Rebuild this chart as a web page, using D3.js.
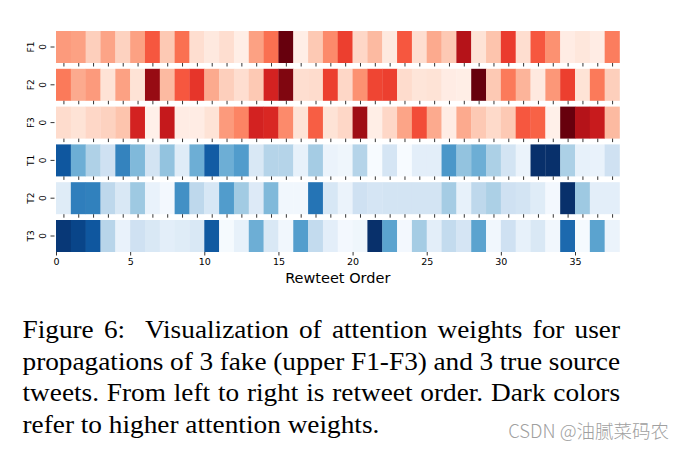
<!DOCTYPE html>
<html>
<head>
<meta charset="utf-8">
<script src="https://cdn.jsdelivr.net/npm/d3@7"></script>
<style>
html,body{margin:0;padding:0;background:#fff;}
svg{display:block;}
</style>
</head>
<body>
<svg id="chart" width="686" height="451"></svg>
<script>
// ---- data ----
const rowLabels = ["F1", "F2", "F3", "T1", "T2", "T3"];
const rowPalettes = ["Reds", "Reds", "Reds", "Blues", "Blues", "Blues"];
const F1 = [0.35,0.33,0.18,0.32,0.17,0.33,0.55,0.20,0.48,0.12,0.07,0.12,0.04,0.33,0.48,1.00,0.04,0.20,0.40,
            0.62,0.15,0.25,0.07,0.55,0.12,0.30,0.20,0.82,0.10,0.22,0.63,0.12,0.55,0.38,0.05,0.08,0.05,0.44];
const F2 = [0.45,0.30,0.35,0.10,0.33,0.10,0.90,0.25,0.55,0.65,0.30,0.18,0.12,0.20,0.72,0.95,0.12,0.13,0.62,
            0.15,0.38,0.60,0.62,0.13,0.09,0.10,0.05,0.04,1.00,0.20,0.45,0.27,0.07,0.36,0.62,0.10,0.45,0.18];
const F3 = [0.13,0.10,0.15,0.17,0.22,0.72,0.03,0.77,0.05,0.05,0.10,0.35,0.42,0.72,0.70,0.40,0.10,0.53,0.10,
            0.15,0.88,0.04,0.15,0.32,0.58,0.30,0.05,0.30,0.20,0.14,0.20,0.55,0.52,0.03,1.00,0.82,0.76,0.25];
const T1 = [0.85,0.50,0.32,0.20,0.68,0.45,0.18,0.40,0.12,0.50,0.83,0.50,0.58,0.15,0.30,0.30,0.08,0.35,0.06,
            0.04,0.30,0.00,0.17,0.00,0.10,0.10,0.60,0.40,0.50,0.33,0.18,0.06,1.00,1.00,0.33,0.08,0.07,0.20];
const T2 = [0.12,0.70,0.69,0.27,0.15,0.37,0.07,0.02,0.63,0.27,0.16,0.58,0.36,0.13,0.45,0.03,0.03,0.74,0.16,
            0.06,0.20,0.17,0.18,0.18,0.18,0.18,0.35,0.08,0.27,0.33,0.20,0.18,0.12,0.02,1.00,0.37,0.10,0.10];
const T3 = [0.97,0.92,0.85,0.29,0.07,0.20,0.15,0.10,0.12,0.15,0.84,0.01,0.08,0.50,0.15,0.03,0.57,0.25,0.10,
            0.02,0.04,1.00,0.55,0.02,0.35,0.10,0.25,0.17,0.55,0.03,0.20,0.08,0.15,0.03,0.78,0.01,0.55,0.06];
const rowsData = [F1, F2, F3, T1, T2, T3];
const xTickValues = [0, 5, 10, 15, 20, 25, 30, 35];
const xLabel = "Rewteet Order";
const captionLines = [
  "Figure 6:  Visualization of attention weights for user",
  "propagations of 3 fake (upper F1-F3) and 3 true source",
  "tweets. From left to right is retweet order. Dark colors",
  "refer to higher attention weights."
];
const watermark = "CSDN @油腻菜码农";

// ---- layout ----
const svg = d3.select("#chart");
const nCols = F1.length;
const x = d3.scaleLinear().domain([0, nCols]).range([56, 619.5]);
const rowTop = d3.scaleLinear().domain([0, rowsData.length - 1]).range([31, 220]);
const rowH = 32;
const interp = {Reds: d3.interpolateReds, Blues: d3.interpolateBlues};
const tickFont = "DejaVu Sans, sans-serif";

rowsData.forEach((vals, r) => {
  const g = svg.append("g");
  const top = rowTop(r);
  const color = d3.scaleSequential(interp[rowPalettes[r]]).domain([0, 1]);
  g.selectAll("rect").data(vals).join("rect")
    .attr("x", (d, i) => x(i))
    .attr("y", top)
    .attr("width", (d, i) => x(i + 1) - x(i) + 0.3)
    .attr("height", rowH)
    .attr("fill", d => color(d));

  const cy = top + rowH / 2;
  g.append("line").attr("x1", 50.5).attr("x2", 54.5).attr("y1", cy).attr("y2", cy)
    .attr("stroke", "#000").attr("stroke-width", 0.8);
  g.append("text").attr("transform", `translate(43,${cy}) rotate(-90)`)
    .attr("text-anchor", "middle").attr("dominant-baseline", "central")
    .style("font-family", tickFont).style("font-size", "9px").text("0");
  g.append("text").attr("transform", `translate(30.5,${cy}) rotate(-90)`)
    .attr("text-anchor", "middle").attr("dominant-baseline", "central")
    .style("font-family", tickFont).style("font-size", "9px").text(rowLabels[r]);

  const isLast = r === rowsData.length - 1;
  const axis = d3.axisBottom(x).tickSizeOuter(0).tickPadding(2.5);
  if (isLast) {
    axis.tickValues(xTickValues).tickSize(3.5).tickFormat(d3.format("d"));
  } else {
    axis.tickValues(d3.range(nCols).map(i => i + 0.5)).tickSize(3.5).tickFormat("");
  }
  const ag = g.append("g").attr("transform", `translate(0,${top + rowH})`).call(axis);
  ag.select(".domain").remove();
  ag.selectAll(".tick line").attr("stroke", "#000").attr("stroke-width", 0.8);
  ag.selectAll(".tick text").style("font-family", tickFont).style("font-size", "9.5px").attr("fill", "#000");
});

svg.append("text").attr("x", (x(0) + x(nCols)) / 2).attr("y", 283)
  .attr("text-anchor", "middle")
  .style("font-family", tickFont).style("font-size", "14.5px").attr("fill", "#000")
  .text(xLabel);

// caption, justified (slightly wide glyphs, like the scanned figure)
const capX0 = 22.5, capX1 = 620;
const sx = 1.05;
const capG = svg.append("g").attr("transform", `translate(${capX0},0) scale(${sx},1)`);
const targetW = (capX1 - capX0) / sx;
const baselines = [338, 369.7, 401.4, 433.1];
captionLines.forEach((line, i) => {
  const t = capG.append("text").attr("x", 0).attr("y", baselines[i])
    .style("font-family", "Liberation Serif, Times New Roman, serif")
    .style("font-size", "26px").attr("fill", "#000")
    .style("white-space", "pre")
    .text(line);
  if (i < captionLines.length - 1) {
    const w = t.node().getComputedTextLength();
    const gaps = (line.match(/ /g) || []).length;
    t.style("word-spacing", ((targetW - w) / gaps) + "px");
  }
});

svg.append("text").attr("x", 669).attr("y", 438).attr("text-anchor", "end")
  .style("font-family", "Noto Sans CJK SC, sans-serif").style("font-size", "18.5px")
  .style("font-weight", 300)
  .attr("fill", "#a0a0a0").text(watermark);
</script>
</body>
</html>
